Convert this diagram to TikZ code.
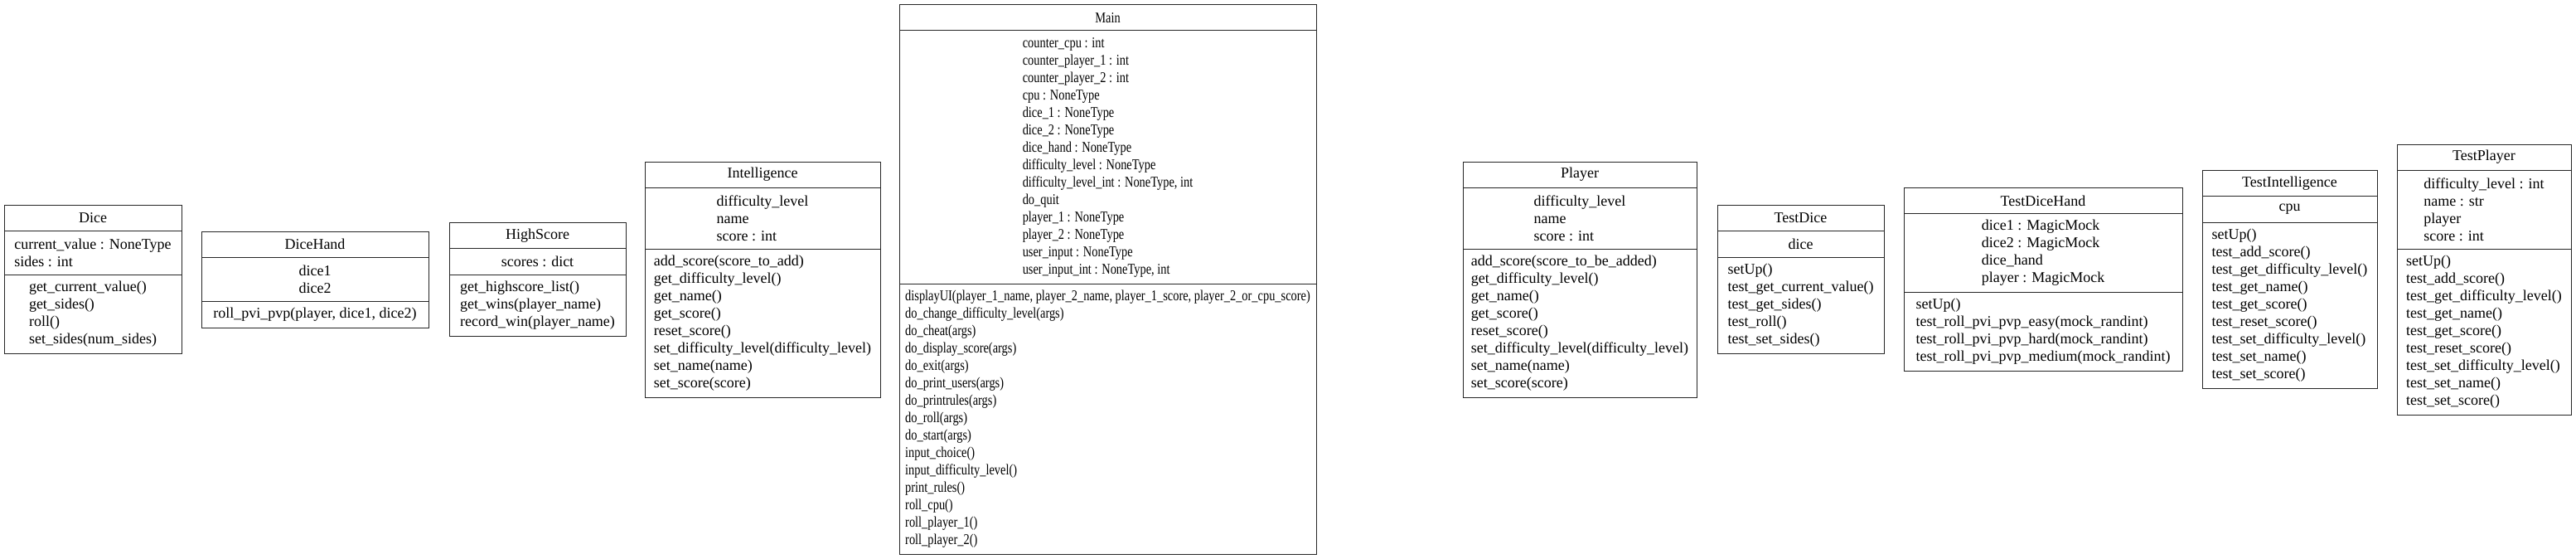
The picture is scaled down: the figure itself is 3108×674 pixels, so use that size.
\documentclass[tikz,border=0pt]{standalone}
\usepackage{fontspec}
\setmainfont{Liberation Serif}
\newfontfamily\narrowserif[FakeStretch=0.8]{Liberation Serif}
\usepackage{tikz}
\usetikzlibrary{shapes,positioning}

\begin{document}
\begin{tikzpicture}[x=1pt,y=-1pt,
  font=\fontsize{18}{21}\selectfont,
  uml/.style={rectangle, draw=black!85, line width=1pt, inner sep=0pt, outer sep=0pt},
  umltitle/.style={uml, minimum height=31pt, anchor=north},
  umlpart/.style={uml, align=left},
  umlnarrow/.style={font=\narrowserif\fontsize{18}{21}\selectfont}]
\useasboundingbox (0,0) rectangle (3108,674);

% Dice
\node (dice) [umltitle, minimum width=214pt] at (112,247.5) {Dice};
\node (dice attrs) [umlpart, minimum width=214pt, minimum height=53pt, below=0pt of dice] {current\_value : NoneType\\sides : int};
\node (dice meths) [umlpart, minimum width=214pt, minimum height=95pt, below=0pt of dice attrs] {get\_current\_value()\\get\_sides()\\roll()\\set\_sides(num\_sides)};

% DiceHand
\node (dicehand) [umltitle, minimum width=274pt] at (380,279) {DiceHand};
\node (dicehand attrs) [umlpart, minimum width=274pt, minimum height=53pt, below=0pt of dicehand] {dice1\\dice2};
\node (dicehand meths) [umlpart, minimum width=274pt, minimum height=32pt, below=0pt of dicehand attrs] {roll\_pvi\_pvp(player, dice1, dice2)};

% HighScore
\node (highscore) [umltitle, minimum width=213pt] at (648.5,268.5) {HighScore};
\node (highscore attrs) [umlpart, minimum width=213pt, minimum height=32pt, below=0pt of highscore] {scores : dict};
\node (highscore meths) [umlpart, minimum width=213pt, minimum height=74pt, below=0pt of highscore attrs] {get\_highscore\_list()\\get\_wins(player\_name)\\record\_win(player\_name)};

% Intelligence
\node (intelligence) [umltitle, minimum width=284pt] at (920,195) {Intelligence};
\node (intelligence attrs) [umlpart, minimum width=284pt, minimum height=74pt, below=0pt of intelligence] {difficulty\_level\\name\\score : int};
\node (intelligence meths) [umlpart, minimum width=284pt, minimum height=179pt, below=0pt of intelligence attrs] {add\_score(score\_to\_add)\\get\_difficulty\_level()\\get\_name()\\get\_score()\\reset\_score()\\set\_difficulty\_level(difficulty\_level)\\set\_name(name)\\set\_score(score)};

% Main
\node (main) [umltitle, umlnarrow, minimum width=503pt] at (1336.5,6) {Main};
\node (main attrs) [umlpart, umlnarrow, minimum width=503pt, minimum height=305pt, below=0pt of main] {counter\_cpu : int\\counter\_player\_1 : int\\counter\_player\_2 : int\\cpu : NoneType\\dice\_1 : NoneType\\dice\_2 : NoneType\\dice\_hand : NoneType\\difficulty\_level : NoneType\\difficulty\_level\_int : NoneType, int\\do\_quit\\player\_1 : NoneType\\player\_2 : NoneType\\user\_input : NoneType\\user\_input\_int : NoneType, int};
\node (main meths) [umlpart, umlnarrow, minimum width=503pt, minimum height=326pt, below=0pt of main attrs] {displayUI(player\_1\_name, player\_2\_name, player\_1\_score, player\_2\_or\_cpu\_score)\\do\_change\_difficulty\_level(args)\\do\_cheat(args)\\do\_display\_score(args)\\do\_exit(args)\\do\_print\_users(args)\\do\_printrules(args)\\do\_roll(args)\\do\_start(args)\\input\_choice()\\input\_difficulty\_level()\\print\_rules()\\roll\_cpu()\\roll\_player\_1()\\roll\_player\_2()};

% Player
\node (player) [umltitle, minimum width=282pt] at (1906,195) {Player};
\node (player attrs) [umlpart, minimum width=282pt, minimum height=74pt, below=0pt of player] {difficulty\_level\\name\\score : int};
\node (player meths) [umlpart, minimum width=282pt, minimum height=179pt, below=0pt of player attrs] {add\_score(score\_to\_be\_added)\\get\_difficulty\_level()\\get\_name()\\get\_score()\\reset\_score()\\set\_difficulty\_level(difficulty\_level)\\set\_name(name)\\set\_score(score)};

% TestDice
\node (testdice) [umltitle, minimum width=201pt] at (2172.5,247.5) {TestDice};
\node (testdice attrs) [umlpart, minimum width=201pt, minimum height=32pt, below=0pt of testdice] {dice};
\node (testdice meths) [umlpart, minimum width=201pt, minimum height=116pt, below=0pt of testdice attrs] {setUp()\\test\_get\_current\_value()\\test\_get\_sides()\\test\_roll()\\test\_set\_sides()};

% TestDiceHand
\node (testdicehand) [umltitle, minimum width=336pt] at (2465,226.5) {TestDiceHand};
\node (testdicehand attrs) [umlpart, minimum width=336pt, minimum height=95pt, below=0pt of testdicehand] {dice1 : MagicMock\\dice2 : MagicMock\\dice\_hand\\player : MagicMock};
\node (testdicehand meths) [umlpart, minimum width=336pt, minimum height=95pt, below=0pt of testdicehand attrs] {setUp()\\test\_roll\_pvi\_pvp\_easy(mock\_randint)\\test\_roll\_pvi\_pvp\_hard(mock\_randint)\\test\_roll\_pvi\_pvp\_medium(mock\_randint)};

% TestIntelligence
\node (testintelligence) [umltitle, minimum width=211pt] at (2762.5,205.5) {TestIntelligence};
\node (testintelligence attrs) [umlpart, minimum width=211pt, minimum height=32pt, below=0pt of testintelligence] {cpu};
\node (testintelligence meths) [umlpart, minimum width=211pt, minimum height=200pt, below=0pt of testintelligence attrs] {setUp()\\test\_add\_score()\\test\_get\_difficulty\_level()\\test\_get\_name()\\test\_get\_score()\\test\_reset\_score()\\test\_set\_difficulty\_level()\\test\_set\_name()\\test\_set\_score()};

% TestPlayer
\node (testplayer) [umltitle, minimum width=210pt] at (2997,174) {TestPlayer};
\node (testplayer attrs) [umlpart, minimum width=210pt, minimum height=95pt, below=0pt of testplayer] {difficulty\_level : int\\name : str\\player\\score : int};
\node (testplayer meths) [umlpart, minimum width=210pt, minimum height=200pt, below=0pt of testplayer attrs] {setUp()\\test\_add\_score()\\test\_get\_difficulty\_level()\\test\_get\_name()\\test\_get\_score()\\test\_reset\_score()\\test\_set\_difficulty\_level()\\test\_set\_name()\\test\_set\_score()};
\end{tikzpicture}
\end{document}
